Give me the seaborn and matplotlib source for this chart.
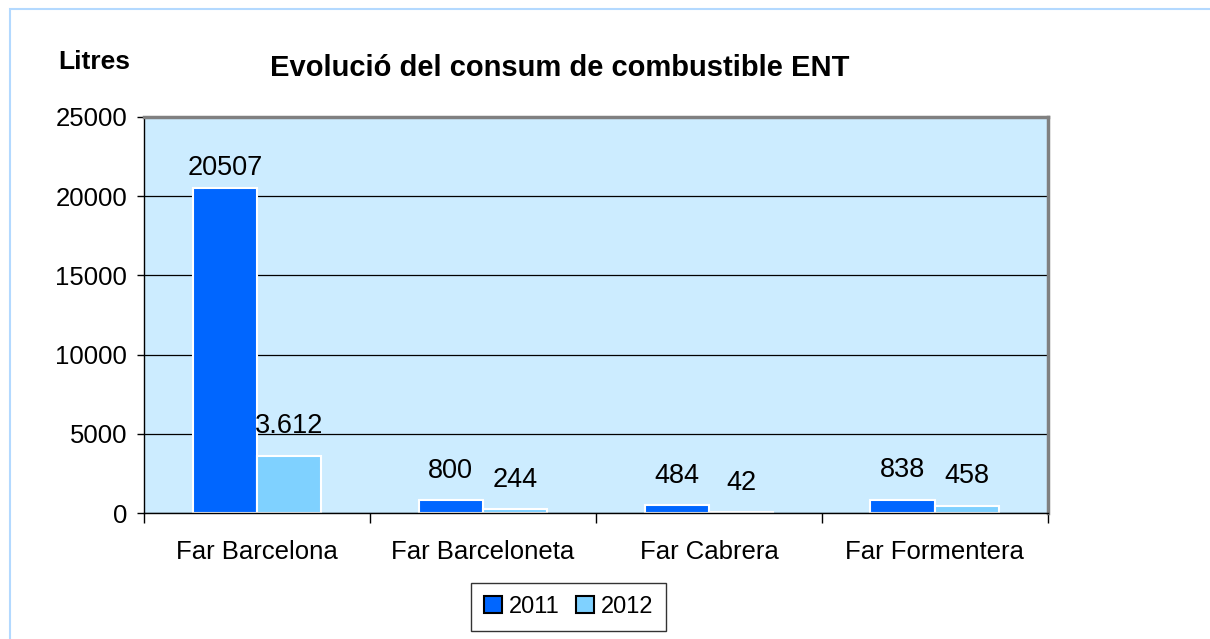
"""Evolució del consum de combustible ENT - grouped bar chart"""
import pandas as pd
import seaborn as sns
import matplotlib.pyplot as plt
from matplotlib.patches import Rectangle
from matplotlib.ticker import FixedLocator

# data
llocs = ['Far Barcelona', 'Far Barceloneta', 'Far Cabrera', 'Far Formentera']
anys = ['2011', '2012']
litres_2011 = [20507, 800, 484, 838]
litres_2012 = [3612, 244, 42, 458]
etiquetes_2011 = ['20507', '800', '484', '838']
etiquetes_2012 = ['3.612', '244', '42', '458']

colors = {'2011': '#0066FF', '2012': '#7FD1FF'}

df = pd.DataFrame({
    'lloc': llocs * 2,
    'any': ['2011'] * 4 + ['2012'] * 4,
    'litres': litres_2011 + litres_2012,
})

sns.set_style('white')
plt.rcParams['font.family'] = ['Liberation Sans', 'DejaVu Sans']

fig = plt.figure(figsize=(12.1, 6.39), dpi=100)
ax = fig.add_axes([0.119, 0.197, 0.747, 0.620])
ax.set_facecolor('#CCECFF')

sns.barplot(data=df, x='lloc', y='litres', hue='any', hue_order=anys,
            palette=colors, width=0.57, edgecolor='white', linewidth=1.5,
            saturation=1, ax=ax, legend=True)

ax.set_ylim(0, 25000)
ax.set_xlim(-0.5, 3.5)
ax.set_yticks(range(0, 25001, 5000))
ax.yaxis.grid(True, color='black', linewidth=0.9)
ax.set_axisbelow(True)

# value labels
for cont, labels in zip(ax.containers, [etiquetes_2011, etiquetes_2012]):
    ax.bar_label(cont, labels=labels, padding=12, fontsize=19.5, color='black')
# top label sits closer to its bar in the original
ax.texts[0].set_position((0, 5))

# spines: Excel-like plot area border
for side in ['top', 'right']:
    ax.spines[side].set_color('#808080')
    ax.spines[side].set_linewidth(2.5)
for side in ['left', 'bottom']:
    ax.spines[side].set_color('black')
    ax.spines[side].set_linewidth(1.0)

# category labels centered, tick marks on boundaries
ax.tick_params(axis='x', which='major', length=0, labelsize=18.5, pad=19,
               labelcolor='black')
ax.xaxis.set_minor_locator(FixedLocator([-0.5, 0.5, 1.5, 2.5, 3.5]))
ax.tick_params(axis='x', which='minor', length=7, width=1, color='black',
               direction='out', bottom=True)
ax.tick_params(axis='y', length=5, width=1, color='black', direction='out',
               left=True, labelsize=18.5, pad=7, labelcolor='black')
ax.set_xlabel('')
ax.set_ylabel('')

# legend at bottom
handles, lbls = ax.get_legend_handles_labels()
for h in handles:
    h.set_edgecolor('black')
    h.set_linewidth(1.5)
ax.legend_.remove()
fig.legend(handles, lbls, loc='center', bbox_to_anchor=(0.470, 0.050), ncol=2,
           frameon=True, fancybox=False, edgecolor='black', fontsize=17,
           labelcolor='black', handlelength=0.75, handleheight=0.75,
           handletextpad=0.3, columnspacing=0.7, borderpad=0.55)

fig.text(0.463, 0.894, 'Evolució del consum de combustible ENT',
         ha='center', va='center', fontsize=21, fontweight='bold', color='black')
fig.text(0.078, 0.903, 'Litres', ha='center', va='center',
         fontsize=19, fontweight='bold', color='black')

# outer chart border
fig.patches.append(Rectangle((10 / 1210, -0.1), 1.2, 1 - 9 / 639 + 0.1,
                             transform=fig.transFigure, fill=False,
                             edgecolor='#B3D9FF', linewidth=1.5))

plt.savefig('out.png', dpi=100)
plt.close()
